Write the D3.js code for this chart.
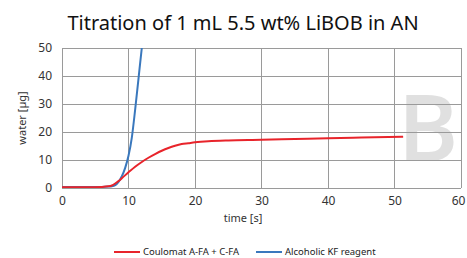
<!DOCTYPE html>
<html>
<head>
<meta charset="utf-8">
<script src="https://cdn.jsdelivr.net/npm/d3@7"></script>
<style>
  body { margin: 0; background: #fff; }
  svg { display: block; font-family: "Noto Sans", "Open Sans", sans-serif; }
</style>
</head>
<body>
<div id="chart"></div>
<script>
const width = 467, height = 258,
  margin = { top: 48, right: 6, bottom: 70, left: 62 };

// data
const coulomatTime  = [0, 2, 4, 6, 7, 7.5, 8, 8.5, 9, 10, 11, 12, 13, 14, 15, 16, 17, 18, 19, 20, 22, 25, 30, 35, 40, 45, 51.3];
const coulomatWater = [0.3, 0.3, 0.3, 0.4, 0.6, 0.9, 1.6, 2.5, 3.5, 5.6, 7.6, 9.3, 10.8, 12.1, 13.3, 14.3, 15.1, 15.7, 16.0, 16.3, 16.7, 17.0, 17.2, 17.5, 17.8, 18.0, 18.3];
const kfTime  = [0, 2, 4, 6, 7, 7.5, 8, 8.5, 9, 9.5, 10, 10.5, 11, 11.5, 12, 12.3];
const kfWater = [0.4, 0.4, 0.4, 0.4, 0.5, 0.6, 1.0, 2.2, 4.2, 7.2, 11.5, 18, 28, 39, 50, 56];
const xTicks = [0, 10, 20, 30, 40, 50, 60];
const yTicks = [0, 10, 20, 30, 40, 50];
const seriesNames = ["Coulomat A-FA + C-FA", "Alcoholic KF reagent"];
const seriesColors = ["#e8242b", "#3a78bd"];

const svg = d3.select("#chart").append("svg")
  .attr("width", width)
  .attr("height", height);

const x = d3.scaleLinear().domain([0, 60]).range([margin.left, width - margin.right]);
const y = d3.scaleLinear().domain([0, 50]).range([height - margin.bottom, margin.top]);

// title
svg.append("text")
  .attr("x", 243)
  .attr("y", 30)
  .attr("text-anchor", "middle")
  .attr("font-size", 20)
  .attr("fill", "#111")
  .text("Titration of 1 mL 5.5 wt% LiBOB in AN");

// watermark letter
svg.append("text")
  .attr("x", 428)
  .attr("y", 161)
  .attr("text-anchor", "middle")
  .attr("font-size", 92)
  .attr("font-weight", 600)
  .attr("font-family", "Open Sans, sans-serif")
  .attr("fill", "#e0e0e0")
  .text("B");

// grid
svg.append("g").selectAll("line.v")
  .data(xTicks)
  .join("line")
  .attr("x1", d => x(d)).attr("x2", d => x(d))
  .attr("y1", y(50)).attr("y2", y(0))
  .attr("stroke", "#9a9a9a").attr("stroke-width", 1)
  .attr("shape-rendering", "crispEdges");

svg.append("g").selectAll("line.h")
  .data(yTicks)
  .join("line")
  .attr("x1", x(0)).attr("x2", x(60))
  .attr("y1", d => y(d)).attr("y2", d => y(d))
  .attr("stroke", "#9a9a9a").attr("stroke-width", 1)
  .attr("shape-rendering", "crispEdges");

// axes (labels only)
const xAxis = svg.append("g")
  .attr("transform", `translate(0,${y(0)})`)
  .call(d3.axisBottom(x).tickValues(xTicks).tickSize(0).tickPadding(8));
const yAxis = svg.append("g")
  .attr("transform", `translate(${x(0)},0)`)
  .call(d3.axisLeft(y).tickValues(yTicks).tickSize(0).tickPadding(10));
[xAxis, yAxis].forEach(g => {
  g.select(".domain").remove();
  g.selectAll("text").attr("font-size", 12).attr("fill", "#333")
    .attr("font-family", "Noto Sans, sans-serif");
});
// last x label sits at the window edge
xAxis.selectAll(".tick").filter(d => d === 60).select("text").attr("dx", -3);

svg.append("text")
  .attr("x", 243)
  .attr("y", 222)
  .attr("text-anchor", "middle")
  .attr("font-size", 11)
  .attr("fill", "#333")
  .text("time [s]");

svg.append("text")
  .attr("transform", `translate(26,${y(25)}) rotate(-90)`)
  .attr("text-anchor", "middle")
  .attr("font-size", 11)
  .attr("fill", "#333")
  .text("water [µg]");

// lines
svg.append("clipPath").attr("id", "plot")
  .append("rect")
  .attr("x", x(0)).attr("y", y(50))
  .attr("width", x(60) - x(0)).attr("height", y(0) - y(50));

const line = d3.line()
  .x(d => x(d[0]))
  .y(d => y(d[1]))
  .curve(d3.curveMonotoneX);

const plot = svg.append("g").attr("clip-path", "url(#plot)");

plot.append("path")
  .datum(d3.zip(kfTime, kfWater))
  .attr("d", line)
  .attr("fill", "none")
  .attr("stroke", seriesColors[1])
  .attr("stroke-width", 2);

plot.append("path")
  .datum(d3.zip(coulomatTime, coulomatWater))
  .attr("d", line)
  .attr("fill", "none")
  .attr("stroke", seriesColors[0])
  .attr("stroke-width", 2);

// legend
const legendX = [114, 256];
const legend = svg.append("g").selectAll("g")
  .data(seriesNames)
  .join("g")
  .attr("transform", (d, i) => `translate(${legendX[i]},252)`);
legend.append("line")
  .attr("x1", 0).attr("x2", 26)
  .attr("stroke", (d, i) => seriesColors[i])
  .attr("stroke-width", 2);
legend.append("text")
  .attr("x", 29)
  .attr("dy", "0.35em")
  .attr("font-size", 9.5)
  .attr("fill", "#222")
  .text(d => d);
</script>
</body>
</html>
